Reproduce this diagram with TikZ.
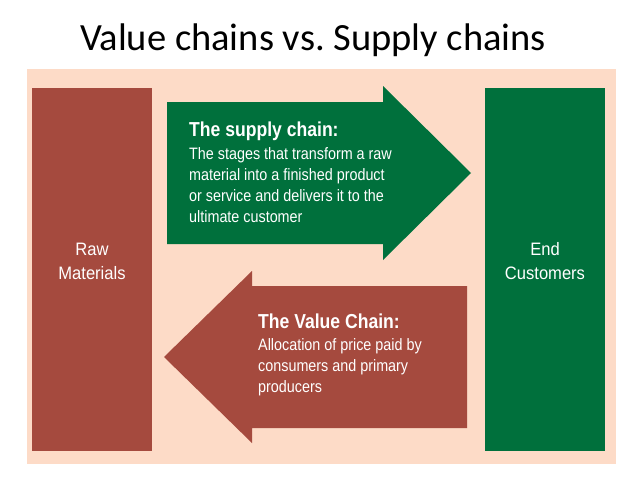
\documentclass[tikz,border=0pt]{standalone}
\usepackage{fontspec}
\setmainfont{Carlito}
\newfontfamily\narrowsans[FakeStretch=0.87]{Liberation Sans}
\newfontfamily\labelsans[FakeStretch=0.92]{Liberation Sans}
\definecolor{peach}{RGB}{253,219,199}
\definecolor{brick}{RGB}{165,74,62}
\definecolor{forest}{RGB}{0,112,60}
\tikzset{
block/.style={draw=none, inner sep=0pt, minimum width=120pt, minimum height=363pt},
lbl/.style={text=white, align=center, font=\labelsans\fontsize{18}{24}\selectfont},
head/.style={text=white, anchor=base west, inner sep=0pt, font=\narrowsans\bfseries\fontsize{20.2}{23}\selectfont},
body/.style={text=white, anchor=base west, inner sep=0pt, font=\narrowsans\fontsize{16.5}{21}\selectfont}
}
\begin{document}
\frenchspacing
\begin{tikzpicture}[x=1pt, y=-1pt]
\useasboundingbox[fill=white] (0,0) rectangle (638,479);
\node[anchor=base] (title) at (313,50) {\fontsize{38.5}{42}\selectfont Value chains vs. Supply chains};
\fill[peach] (27,69) rectangle (616,464);
\node[block, fill=brick, anchor=north west] (raw) at (32,88) {};
\node[block, fill=forest, anchor=north west] (cust) at (485,88) {};
\node[lbl] (rawlbl) at (92,261) {Raw\\Materials};
\node[lbl] (custlbl) at (545,261) {End\\Customers};
\coordinate (sc) at (167,102);
\coordinate (vc) at (467,286);
\fill[forest] (sc) -- (383,102) -- (383,86) -- (471,173) --
      (383,260) -- (383,244) -- (167,244) -- cycle;
\fill[brick] (vc) -- (252,286) -- (252,271) -- (164,357) --
      (252,443) -- (252,428) -- (467,428) -- cycle;
\node[head] (schead) at (189,136) {The supply chain:};
\foreach \txt [count=\i] in {The stages that transform a raw,
  material into a finished product,
  or service and delivers it to the,
  ultimate customer}
  \node[body] (sc\i) at (189,138+21*\i) {\txt};
\node[head] (vchead) at (258,328) {The Value Chain:};
\foreach \txt [count=\i] in {Allocation of price paid by,
  consumers and primary,
  producers}
  \node[body] (vc\i) at (258,329+21*\i) {\txt};
\end{tikzpicture}
\end{document}
